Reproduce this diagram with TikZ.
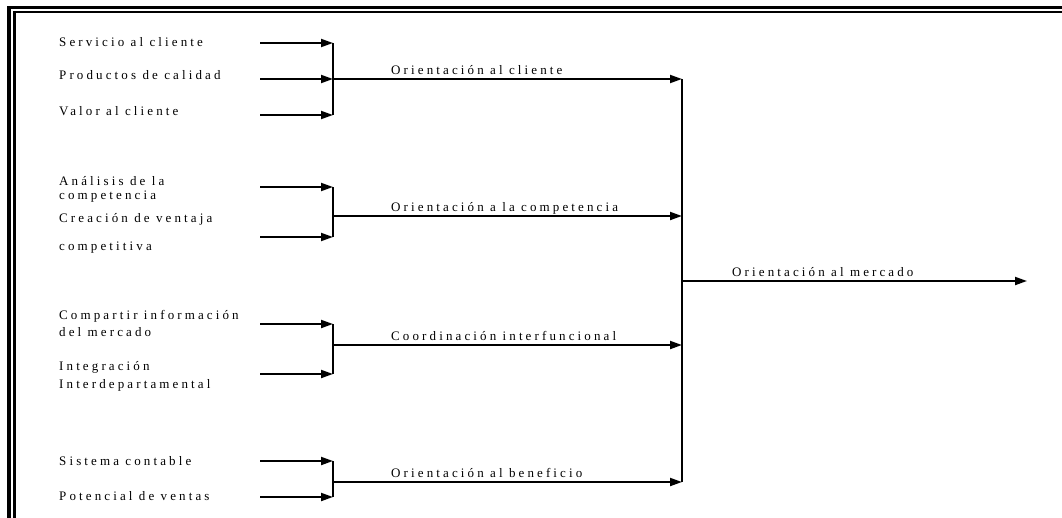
\documentclass[tikz,border=0pt]{standalone}
\usepackage{fontspec}
\setmainfont{Liberation Serif}[LetterSpace=24]
\usetikzlibrary{arrows.meta}

\tikzset{
  lab/.style={anchor=base west, inner sep=0pt, font=\fontsize{13}{15}\selectfont},
  arr/.style={-{Triangle[length=12pt,width=8pt]}},
  wire/.style={line width=1.9pt},
}

\begin{document}
\begin{tikzpicture}[x=1pt,y=-1pt]
\useasboundingbox (0,0) rectangle (1062,517);

% marco doble
\draw[line width=3.8pt] (9.3,530) -- (9.3,7.5) -- (1075,7.5);
\draw[line width=2.2pt] (14.4,530) -- (14.4,12) -- (1075,12);

% factores
\node[lab] (f1) at (59,46) {Servicio al cliente};
\node[lab] (f2) at (59,79.5) {Productos de calidad};
\node[lab] (f3) at (59,115) {Valor al cliente};
\node[lab] (f4) at (59,185) {Análisis de la};
\node[lab] (f4b) at (59,199) {competencia};
\node[lab] (f5) at (59,222) {Creación de ventaja};
\node[lab] (f5b) at (59,250) {competitiva};
\node[lab] (f6) at (59,319) {Compartir información};
\node[lab] (f6b) at (59,336) {del mercado};
\node[lab] (f7) at (59,370) {Integración};
\node[lab] (f7b) at (59,388) {Interdepartamental};
\node[lab] (f8) at (59,465) {Sistema contable};
\node[lab] (f9) at (59,500) {Potencial de ventas};

% inicio de flechas
\coordinate (a1) at (260,43);
\coordinate (a2) at (260,79);
\coordinate (a3) at (260,115);
\coordinate (a4) at (260,187);
\coordinate (a5) at (260,237);
\coordinate (a6) at (260,324);
\coordinate (a7) at (260,374);
\coordinate (a8) at (260,461);
\coordinate (a9) at (260,497);

% uniones
\coordinate (j1) at (333,79);
\coordinate (j2) at (333,216);
\coordinate (j3) at (333,345);
\coordinate (j4) at (333,482);

% colector
\coordinate (c1) at (682,79);
\coordinate (c2) at (682,216);
\coordinate (c3) at (682,345);
\coordinate (c4) at (682,482);
\coordinate (m) at (682,281);
\coordinate (e) at (1027,281);

\foreach \a/\j in {a1/j1,a2/j1,a3/j1,a4/j2,a5/j2,a6/j3,a7/j3,a8/j4,a9/j4}
{
    \draw[wire,arr] (\a) -- (\a -| \j);
}
\draw[wire] (a1 -| j1) -- (a3 -| j1);
\draw[wire] (a4 -| j2) -- (a5 -| j2);
\draw[wire] (a6 -| j3) -- (a7 -| j3);
\draw[wire] (a8 -| j4) -- (a9 -| j4);

\foreach \j/\c in {j1/c1,j2/c2,j3/c3,j4/c4}
{
    \draw[wire,arr] (\j) -- (\c);
}
\draw[wire] (c1) -- (c4);
\draw[wire,arr] (m) -- (e);

% dimensiones
\node[lab] (o1) at (391,74.5) {Orientación al cliente};
\node[lab] (o2) at (391,211.5) {Orientación a la competencia};
\node[lab] (o3) at (391,340.5) {Coordinación interfuncional};
\node[lab] (o4) at (391,477.5) {Orientación al beneficio};
\node[lab] (om) at (732,276) {Orientación al mercado};

\end{tikzpicture}
\end{document}
